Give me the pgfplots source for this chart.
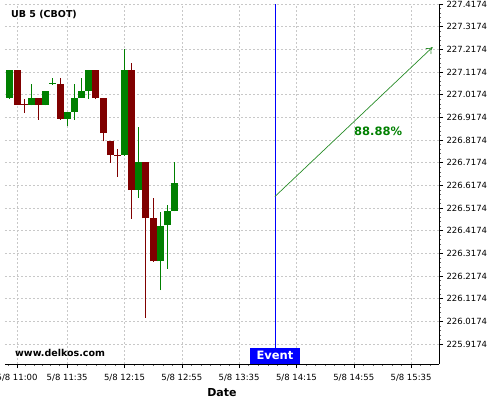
\documentclass[border=0pt]{standalone}
\usepackage{fontspec}
\setmainfont{DejaVu Sans}
\usepackage{pgfplots}
\pgfplotsset{compat=1.18}
\usepackage{pgfplotstable}
\usetikzlibrary{arrows.meta}
\definecolor{cgreen}{RGB}{0,128,0}
\definecolor{cred}{RGB}{128,0,0}
\definecolor{arrowgreen}{RGB}{40,140,40}
\definecolor{gridgray}{RGB}{200,200,200}

% green (rising) candles: time (min after 11:00), open, high, low, close
\pgfplotstableread{
t o h l c
-5 227.003 227.126 227.000 227.126
10 226.972 227.064 226.970 227.002
20 226.972 227.033 226.970 227.033
25 227.065 227.093 227.062 227.069
35 226.910 226.940 226.877 226.940
40 226.940 227.064 226.907 227.002
45 227.002 227.093 227.002 227.033
50 227.033 227.126 227.000 227.126
75 226.751 227.217 226.748 227.126
85 226.596 226.875 226.562 226.719
100 226.282 226.501 226.155 226.440
105 226.441 226.530 226.250 226.502
110 226.502 226.719 226.502 226.626
}\upcandles

% red (falling) candles
\pgfplotstableread{
t o h l c
0 227.126 227.126 226.972 226.972
5 226.977 227.000 226.938 226.973
15 227.002 227.002 226.907 226.972
30 227.064 227.093 226.907 226.910
55 227.126 227.126 226.998 227.002
60 227.002 227.002 226.811 226.848
65 226.811 226.811 226.717 226.751
70 226.753 226.779 226.655 226.749
80 227.126 227.155 226.470 226.596
90 226.719 226.719 226.032 226.472
95 226.472 226.562 226.280 226.282
}\downcandles

\begin{document}
\begin{tikzpicture}[x=1pt,y=1pt]
\useasboundingbox (0,0) rectangle (500,400);
\begin{axis}[
  at={(5pt,36pt)}, anchor=south west,
  scale only axis, width=434pt, height=360pt,
  xmin=-8.4, xmax=294.5, ymin=225.8289, ymax=227.4174,
  axis x line*=bottom, axis y line*=right,
  axis line style={-, black, line width=0.8pt},
  tick align=outside,
  xtick={0,35,75,115,155,195,235,275},
  xticklabels={5/8 11:00,5/8 11:35,5/8 12:15,5/8 12:55,5/8 13:35,5/8 14:15,5/8 14:55,5/8 15:35},
  minor xtick={-5.83,5.83,11.67,17.5,23.33,29.17,41.67,48.33,55,61.67,68.33,81.67,88.33,95,101.67,108.33,121.67,128.33,135,141.67,148.33,161.67,168.33,175,181.67,188.33,201.67,208.33,215,221.67,228.33,241.67,248.33,255,261.67,268.33,281.67,288.33},
  ytick={225.9174,226.0174,226.1174,226.2174,226.3174,226.4174,226.5174,226.6174,226.7174,226.8174,226.9174,227.0174,227.1174,227.2174,227.3174,227.4174},
  yticklabels={225.9174,226.0174,226.1174,226.2174,226.3174,226.4174,226.5174,226.6174,226.7174,226.8174,226.9174,227.0174,227.1174,227.2174,227.3174,227.4174},
  minor y tick num=4,
  xmajorgrids, ymajorgrids,
  major grid style={gridgray, dash pattern=on 2pt off 2pt, line width=0.5pt},
  major tick style={black, line width=0.5pt},
  minor tick style={black!60, line width=0.4pt},
  major tick length=4pt, minor tick length=2pt,
  ticklabel style={font=\fontsize{8.5}{10}\selectfont},
  xticklabel style={yshift=-3pt},
  /pgf/number format/assume math mode=true,
  xlabel={Date},
  xlabel style={font=\bfseries\fontsize{11}{12}\selectfont, yshift=0pt},
  clip mode=individual,
]
% wicks
\addplot[draw=none, no markers, forget plot,
  error bars/.cd, y dir=plus, y explicit, error mark=none,
  error bar style={draw=cgreen, line width=1pt}]
  table[x=t, y=l, y error expr={\thisrow{h}-\thisrow{l}}] {\upcandles};
\addplot[draw=none, no markers, forget plot,
  error bars/.cd, y dir=plus, y explicit, error mark=none,
  error bar style={draw=cred, line width=1pt}]
  table[x=t, y=l, y error expr={\thisrow{h}-\thisrow{l}}] {\downcandles};
% bodies
\addplot[draw=none, no markers, forget plot,
  error bars/.cd, y dir=plus, y explicit, error mark=none,
  error bar style={draw=cgreen, line width=7pt}]
  table[x=t, y=o, y error expr={\thisrow{c}-\thisrow{o}}] {\upcandles};
\addplot[draw=none, no markers, forget plot,
  error bars/.cd, y dir=plus, y explicit, error mark=none,
  error bar style={draw=cred, line width=7pt}]
  table[x=t, y=c, y error expr={\thisrow{o}-\thisrow{c}}] {\downcandles};
% event line
\addplot[blue, line width=0.8pt, forget plot] coordinates {(180,225.900) (180,227.4174)};
% projection arrow
\addplot[arrowgreen, line width=0.7pt, -{To[length=6pt,width=8pt]}, forget plot]
  coordinates {(180,226.568) (290,227.227)};
\node[anchor=west, font=\bfseries\fontsize{9.5}{11}\selectfont, inner sep=0pt]
  at (rel axis cs:0,1) [xshift=6pt, yshift=-11pt] {UB 5 (CBOT)};
\node[anchor=west, font=\bfseries\fontsize{9.5}{11}\selectfont, inner sep=0pt]
  at (rel axis cs:0,0) [xshift=10pt, yshift=11pt] {www.delkos.com};
\node[font=\bfseries\fontsize{11.5}{13}\selectfont, text=cgreen, inner sep=0pt]
  at (axis cs:252,226.856) {88.88\%};
\node[anchor=south, fill=blue, text=white, font=\bfseries\fontsize{11.5}{13}\selectfont,
  minimum width=50pt, minimum height=16pt, inner sep=0pt]
  at (axis cs:180,225.8289) {Event};
\end{axis}
\end{tikzpicture}
\end{document}
